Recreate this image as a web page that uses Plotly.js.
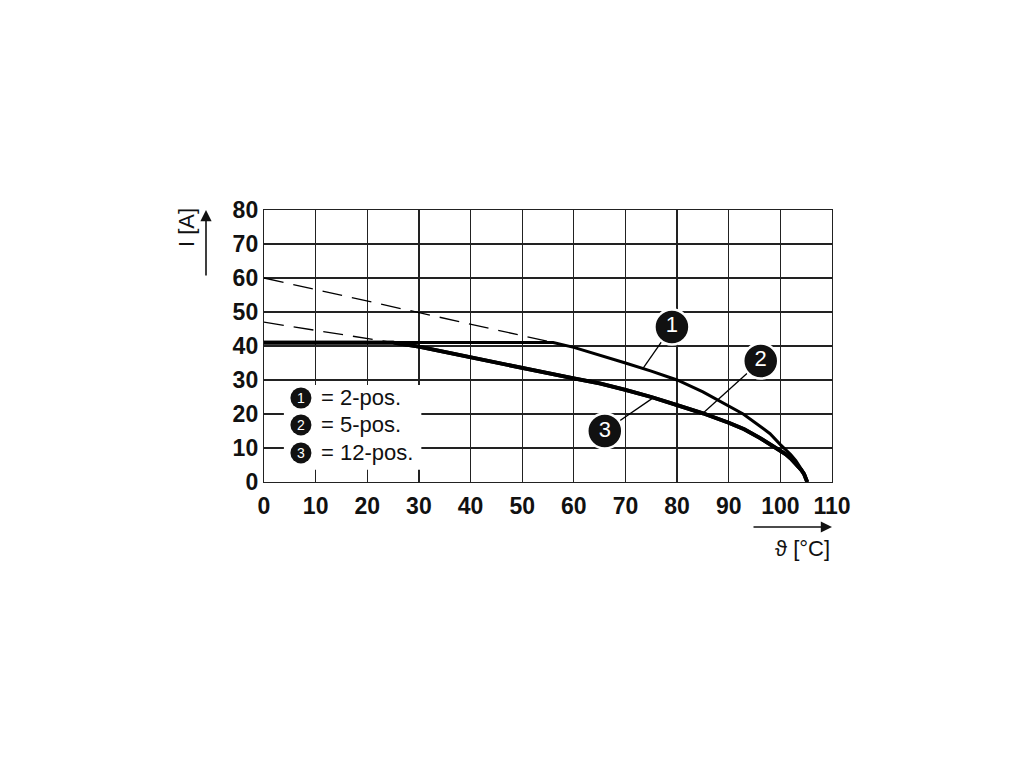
<!DOCTYPE html>
<html><head><meta charset="utf-8">
<script src="https://cdn.plot.ly/plotly-3.0.1.min.js"></script>
<style>body{margin:0;background:#fff}#c{width:1020px;height:765px}</style>
</head><body><div id="c"></div>
<script>
// Data
const xTicks = [0,10,20,30,40,50,60,70,80,90,100,110];
const yTicks = [0,10,20,30,40,50,60,70,80];
const c1X = [0, 56, 60, 65, 70, 75, 80, 85, 90, 92.8, 95, 98, 100, 101, 102, 103, 104, 104.6, 105.2];
const c1Y = [41, 41, 39.6, 37.4, 35.0, 32.6, 30.0, 26.5, 22.4, 20.0, 17.6, 14.2, 11.0, 9.6, 8.1, 6.3, 4.1, 2.5, 0];
const c2X = [0,25,30,35,40,45,50,55,60,65,70,75,80,85,90,93,96,98,99.3,100,101,102,103,104,104.6,105.2];
const c2Y = [41,41,39.8,38.2,36.6,35.0,33.4,32.0,30.5,29.0,27.1,25.0,22.6,20.2,17.4,15.5,13.0,11.2,10.0,9.3,8.2,6.9,5.4,3.6,2.3,0];
const c3X = c2X.slice();
const c3Y = c2Y.slice();
const ext1X = [0, 56], ext1Y = [60, 41];
const ext2X = [0, 25], ext2Y = [47, 41];
const calloutLabels = ['1','2','3'];
const calloutX = [79.0, 96.2, 66.0];
const calloutY = [45.6, 35.6, 15.0];
const leaderX = [73.4, 85.0, 75.7];
const leaderY = [33.4, 20.2, 25.1];
const legendText = ['= 2-pos.', '= 5-pos.', '= 12-pos.'];

const FONT = 'Liberation Sans, Arial, Helvetica, sans-serif';
const traces = [];
traces.push({x: ext1X, y: ext1Y, mode:'lines', line:{color:'#000', width:1.3, dash:'20px,10px'}, hoverinfo:'skip'});
traces.push({x: ext2X, y: ext2Y, mode:'lines', line:{color:'#000', width:1.3, dash:'20px,10px'}, hoverinfo:'skip'});
traces.push({x: c1X, y: c1Y, mode:'lines', line:{color:'#000', width:3, shape:'linear'}, name:'1'});
traces.push({x: c2X, y: c2Y, mode:'lines', line:{color:'#000', width:3.8, shape:'linear'}, name:'2'});
traces.push({x: c3X, y: c3Y, mode:'lines', line:{color:'#000', width:3.8, shape:'linear'}, name:'3'});
for (let i=0;i<3;i++){
  traces.push({x:[calloutX[i], leaderX[i]], y:[calloutY[i], leaderY[i]], mode:'lines', line:{color:'#000', width:1.3}, hoverinfo:'skip'});
}
traces.push({x: calloutX, y: calloutY, mode:'markers+text', text: calloutLabels, textposition:'middle center',
  textfont:{family:FONT, size:22, color:'#fff'},
  marker:{size:35, color:'#111', line:{color:'#fff', width:2.5}}, hoverinfo:'skip', cliponaxis:false});

const shapes = [];
const annotations = [];
// legend box (paper coords)
shapes.push({type:'rect', xref:'paper', yref:'paper', x0:0.035, x1:0.277, y0:0.045, y1:0.357, fillcolor:'#fff', line:{width:0}, layer:'above'});
const legY = [0.309, 0.210, 0.107];
for (let i=0;i<3;i++){
  const cx = 0.065, r = 10.5/568, ry = 10.5/272;
  shapes.push({type:'circle', xref:'paper', yref:'paper', x0:cx-r, x1:cx+r, y0:legY[i]-ry, y1:legY[i]+ry, fillcolor:'#111', line:{width:0}, layer:'above'});
  annotations.push({xref:'paper', yref:'paper', x:cx, y:legY[i], text:calloutLabels[i], showarrow:false, xanchor:'center', yanchor:'middle',
    font:{family:FONT, size:14, color:'#fff'}});
  annotations.push({xref:'paper', yref:'paper', x:0.097, y:legY[i], text:legendText[i], showarrow:false, xanchor:'left', yanchor:'middle',
    font:{family:FONT, size:22, color:'#111'}});
}
// axis arrows and labels
annotations.push({xref:'paper', yref:'paper', x:1.0, y:-0.1654, ax:-80, ay:0, text:'', showarrow:true, arrowhead:2, arrowsize:1.4, arrowwidth:1.6, arrowcolor:'#111'});
annotations.push({xref:'paper', yref:'paper', x:(802-264)/568, y:(482-548)/272, text:'ϑ [°C]', showarrow:false, xanchor:'center', yanchor:'middle',
  font:{family:FONT, size:22, color:'#111'}});
annotations.push({xref:'paper', yref:'paper', x:(206-264)/568, y:1.0, ax:0, ay:67, text:'', showarrow:true, arrowhead:2, arrowsize:1.4, arrowwidth:1.6, arrowcolor:'#111'});
annotations.push({xref:'paper', yref:'paper', x:(186-264)/568, y:(482-228)/272, text:'I [A]', textangle:-90, showarrow:false, xanchor:'center', yanchor:'middle',
  font:{family:FONT, size:22, color:'#111'}});

const layout = {
  width:1020, height:765, showlegend:false,
  paper_bgcolor:'#fff', plot_bgcolor:'#fff',
  margin:{l:264, r:188, t:210, b:283},
  xaxis:{range:[0,110], tickvals:xTicks, ticktext:xTicks.map(String), showgrid:true, gridcolor:'#222', gridwidth:1.2,
    zeroline:false, showline:true, linecolor:'#222', linewidth:1.2, mirror:true, ticks:'', fixedrange:true, ticklabelstandoff:3,
    tickfont:{family:FONT, size:23, color:'#111', weight:'bold'}},
  yaxis:{range:[0,80], tickvals:yTicks, ticktext:yTicks.map(String), showgrid:true, gridcolor:'#222', gridwidth:1.2,
    zeroline:false, showline:true, linecolor:'#222', linewidth:1.2, mirror:true, ticks:'', fixedrange:true, ticklabelstandoff:0,
    tickfont:{family:FONT, size:23, color:'#111', weight:'bold'}},
  shapes: shapes, annotations: annotations
};
Plotly.newPlot('c', traces, layout, {displayModeBar:false, staticPlot:true});
</script></body></html>
